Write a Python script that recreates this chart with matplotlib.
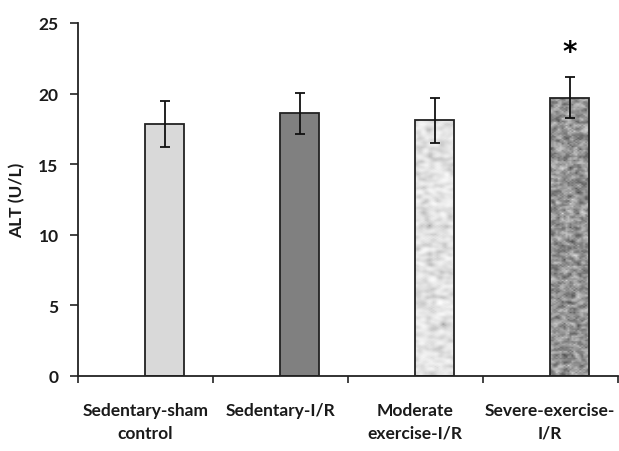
import numpy as np
import matplotlib
matplotlib.use("Agg")
import matplotlib.pyplot as plt
from matplotlib.ticker import FixedLocator, NullFormatter, FixedFormatter

categories = ["Sedentary-sham\ncontrol", "Sedentary-I/R", "Moderate\nexercise-I/R", "Severe-exercise-\nI/R"]
values = [17.85, 18.6, 18.1, 19.7]
errors = [1.65, 1.45, 1.6, 1.45]
yticks = [0, 5, 10, 15, 20, 25]
significant = [False, False, False, True]

plt.rcParams['font.family'] = ['Lato', 'DejaVu Sans']

fig = plt.figure(figsize=(6.19, 4.52), dpi=100)
ax = fig.add_axes([0.126, 0.166, 0.872, 0.781])

n = len(categories)
centers = np.arange(n) + 0.5
width = 0.285
colors = ['#d9d9d9', '#808080', '#ececec', '#a8a8a8']
bars = ax.bar(centers, values, width=width, align='edge', color=colors,
              edgecolor='#222222', linewidth=1.3, zorder=2)

# textures for the last two bars (decorative only)
rng = np.random.default_rng(3)
def smooth_noise(h, w, k):
    a = rng.random((h, w))
    for _ in range(k):
        a = (a + np.roll(a, 1, 0) + np.roll(a, -1, 0) + np.roll(a, 1, 1) + np.roll(a, -1, 1)) / 5
    a = (a - a.min()) / (a.max() - a.min())
    return a

for idx, (lo, hi, k, gamma) in {2: (0.62, 0.99, 3, 0.5), 3: (0.3, 0.88, 1, 1.0)}.items():
    b = bars[idx]
    tex = smooth_noise(200, 20, k) ** gamma
    tex = lo + (hi - lo) * tex
    im = ax.imshow(tex, cmap='gray', vmin=0, vmax=1, aspect='auto',
                   extent=[b.get_x(), b.get_x() + b.get_width(), 0, b.get_height()],
                   zorder=2.1, interpolation='bilinear')
    im.set_clip_path(b)
    b.set_facecolor('none')
    b.set_zorder(2.2)

ax.errorbar(centers + width / 2, values, yerr=errors, fmt='none', ecolor='#111111',
            elinewidth=1.3, capsize=3.5, capthick=1.3, zorder=3)

for c, v, e, s in zip(centers, values, errors, significant):
    if s:
        ax.text(c + width / 2, v + e + 1.8, '*', ha='center', va='center',
                fontsize=20, fontweight='bold', color='black', family='DejaVu Sans')

ax.set_xlim(0, n)
ax.set_ylim(0, 25)
ax.set_yticks(yticks)
ax.set_yticklabels([str(t) for t in yticks])

ax.xaxis.set_major_locator(FixedLocator(np.arange(n + 1)))
ax.xaxis.set_major_formatter(NullFormatter())
ax.xaxis.set_minor_locator(FixedLocator(centers))
ax.xaxis.set_minor_formatter(FixedFormatter(categories))
ax.tick_params(axis='x', which='major', direction='out', length=5, width=1.2, color='#222222')
ax.tick_params(axis='x', which='minor', length=0, pad=19, labelsize=12.5)
ax.tick_params(axis='y', direction='out', length=6, width=1.2, color='#222222', pad=8, labelsize=12.5)
for lab in ax.get_xticklabels(minor=True) + ax.get_yticklabels():
    lab.set_fontweight('bold')
    lab.set_color('#1a1a1a')
for lab in ax.get_xticklabels(minor=True):
    lab.set_linespacing(1.5)

ax.spines['top'].set_visible(False)
ax.spines['right'].set_visible(False)
for s in ['left', 'bottom']:
    ax.spines[s].set_linewidth(1.3)
    ax.spines[s].set_color('#222222')

ax.set_ylabel('ALT (U/L)', fontsize=12.5, fontweight='bold', color='#1a1a1a')
ax.yaxis.set_label_coords(-0.098, 0.5)

fig.savefig('out.png', dpi=100)
